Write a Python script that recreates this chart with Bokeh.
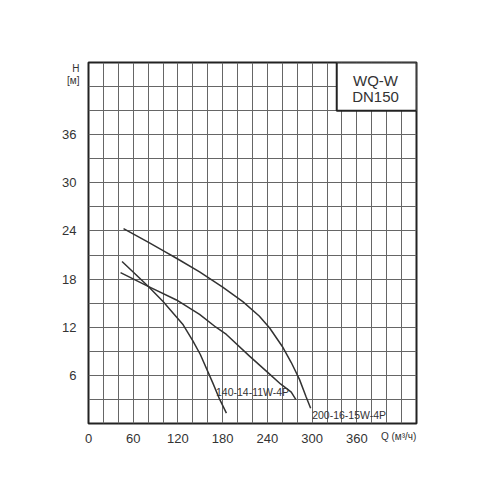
from bokeh.plotting import figure
from bokeh.models import FixedTicker, Label, Range1d, LinearAxis
from bokeh.embed import file_html
from bokeh.resources import INLINE

# Data
q_a = [47, 80, 103, 118, 149, 180, 207, 229, 243, 260, 272, 283, 292, 298]
h_a = [24.3, 22.6, 21.4, 20.6, 18.9, 17.0, 15.2, 13.4, 11.9, 9.6, 7.6, 5.5, 3.3, 1.9]
q_b = [43, 80, 118, 149, 171, 185, 216, 240, 258, 272, 278]
h_b = [18.8, 17.1, 15.4, 13.6, 12.0, 11.1, 8.4, 6.4, 4.9, 3.9, 3.0]
q_c = [45, 80, 100, 127, 140, 150, 167, 176, 185]
h_c = [20.2, 17.1, 15.2, 12.3, 10.3, 8.6, 5.0, 3.0, 1.3]
x_ticks = [0, 60, 120, 180, 240, 300, 360]
y_ticks = [6, 12, 18, 24, 30, 36]
label_140 = "140-14-11W-4P"
label_200 = "200-16-15W-4P"
title_lines = ["WQ-W", "DN150"]
y_title = ["H", "[м]"]
x_title = "Q (м³/ч)"

FONT = "Liberation Sans"
W, H = 484, 484
p = figure(width=W, height=H, output_backend="svg", toolbar_location=None,
           x_range=Range1d(0, 440), y_range=Range1d(0, 45),
           min_border_left=88, min_border_right=68, min_border_top=62, min_border_bottom=61)
p.background_fill_color = "white"
p.border_fill_color = "white"
p.outline_line_color = "#222222"
p.outline_line_width = 2

p.xaxis.ticker = FixedTicker(ticks=x_ticks)
p.yaxis.ticker = FixedTicker(ticks=y_ticks)
p.xaxis.major_label_standoff = 4
p.yaxis.major_label_standoff = 6

# extra axes carrying the axis titles
ax_h = LinearAxis(ticker=FixedTicker(ticks=[44.2, 42.8]),
                  major_label_overrides={44.2: y_title[0], 42.8: y_title[1]})
ax_h.major_label_text_font_size = "10px"
ax_h.major_label_standoff = -26
p.add_layout(ax_h, "left")
ax_q = LinearAxis(ticker=FixedTicker(ticks=[416]),
                  major_label_overrides={416: x_title})
ax_q.major_label_text_font_size = "10px"
ax_q.major_label_standoff = -21
p.add_layout(ax_q, "below")

for ax in list(p.xaxis) + list(p.yaxis):
    ax.axis_line_color = None
    ax.major_tick_line_color = None
    ax.minor_tick_line_color = None
    ax.major_label_text_font = FONT
    ax.major_label_text_color = "#333333"
for ax in (p.xaxis[0], p.yaxis[0]):
    ax.major_label_text_font_size = "13px"

p.xgrid.ticker = FixedTicker(ticks=list(range(20, 440, 20)))
p.ygrid.ticker = FixedTicker(ticks=[i * 3 for i in range(1, 15)])
for g in (p.xgrid[0], p.ygrid[0]):
    g.grid_line_color = "#666666"
    g.grid_line_width = 1

# Title box
p.quad(left=[333], right=[440], bottom=[39], top=[45], fill_color="white",
       line_color="#222222", line_width=2)
p.add_layout(Label(x=385, y=42.7, text=title_lines[0], text_align="center", text_baseline="middle",
                   text_font=FONT, text_font_size="15px", text_color="#333333"))
p.add_layout(Label(x=385, y=40.8, text=title_lines[1], text_align="center", text_baseline="middle",
                   text_font=FONT, text_font_size="15px", text_color="#333333"))

# Curves
for xs, ys in ((q_a, h_a), (q_b, h_b), (q_c, h_c)):
    p.line(xs, ys, line_color="#333333", line_width=1.5)

p.add_layout(Label(x=171, y=3.9, text=label_140, text_align="left", text_baseline="middle",
                   text_font=FONT, text_font_size="10.5px", text_color="#333333"))
p.add_layout(Label(x=300, y=1.1, text=label_200, text_align="left", text_baseline="middle",
                   text_font=FONT, text_font_size="10.5px", text_color="#333333"))

open("out.html", "w").write(file_html(p, INLINE))
